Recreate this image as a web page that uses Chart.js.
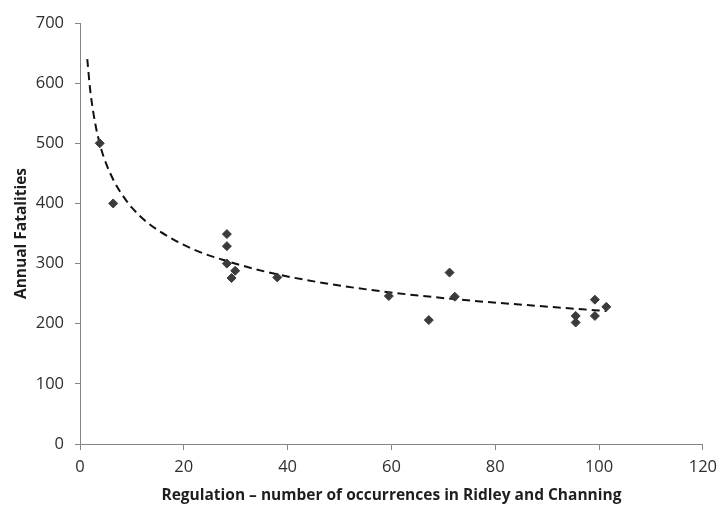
<!DOCTYPE html>
<html>
<head>
<meta charset="utf-8">
<script src="https://cdn.jsdelivr.net/npm/chart.js@4.4.1/dist/chart.umd.min.js"></script>
<style>
  html, body { margin: 0; padding: 0; background: #fff; }
  canvas { display: block; }
</style>
</head>
<body>
<canvas id="chart1" width="724" height="506"></canvas>
<script>
// scatter values
const regulation = [3.8, 6.4, 28.3, 28.3, 28.3, 29.9, 29.2, 38.0, 59.5, 67.2, 71.2, 72.2, 95.5, 95.5, 99.2, 99.2, 101.4];
const fatalities = [500, 400, 349, 329, 300, 288, 276, 277, 246, 206, 285, 245, 213, 202, 240, 213, 228];

// dashed trend line
const trendX = [1.4, 2, 3, 4, 5, 6.5, 8, 10, 13, 17, 22, 28, 36, 46, 58, 72, 86, 101.4];
const trendY = [640, 586, 530, 493, 467, 438, 416, 393, 368, 345, 323, 305, 286, 269, 254, 241, 231, 221];

// axis ticks
const xTicks = [0, 20, 40, 60, 80, 100, 120];
const yTicks = [0, 100, 200, 300, 400, 500, 600, 700];

const xTitle = "Regulation \u2013 number of occurrences in Ridley and Channing";
const yTitle = "Annual Fatalities";

const points = regulation.map((x, i) => ({ x: x, y: fatalities[i] }));
const trend = trendX.map((x, i) => ({ x: x, y: trendY[i] }));

const axisGrey = "#858585";
const tickFont = { family: "'Open Sans'", size: 16.5 };
const titleFont = { family: "'Open Sans'", size: 15.5, weight: "bold" };

let ctx1 = document.getElementById("chart1").getContext("2d");
let chart1 = new Chart(ctx1, {
    type: "scatter",
    data: {
        datasets: [
            {
                label: "Fatalities",
                data: points,
                pointStyle: "rectRot",
                pointRadius: 4.5,
                backgroundColor: "#3b3b3b",
                borderColor: "#3b3b3b",
                borderWidth: 1,
                order: 1,
            },
            {
                label: "Trend",
                data: trend,
                showLine: true,
                pointRadius: 0,
                borderColor: "#111",
                borderWidth: 2,
                borderDash: [8, 5],
                cubicInterpolationMode: "monotone",
                order: 2,
            },
        ],
    },
    options: {
        responsive: false,
        animation: false,
        devicePixelRatio: 1,
        layout: { padding: { left: 0, right: 14.5, top: 23, bottom: 0 } },
        plugins: {
            legend: { display: false },
            tooltip: { enabled: false },
        },
        scales: {
            x: {
                type: "linear",
                min: xTicks[0],
                max: xTicks[xTicks.length - 1],
                afterBuildTicks: (s) => { s.ticks = xTicks.map(v => ({ value: v })); },
                afterFit: (s) => { s.height = 62; },
                grid: { drawOnChartArea: false, drawTicks: true, tickLength: 6, color: axisGrey },
                border: { color: axisGrey, width: 1 },
                ticks: { color: "#2e2e2e", font: tickFont, padding: 7, maxRotation: 0 },
                title: { display: true, text: xTitle, color: "#1e1e1e", font: titleFont, padding: { top: 0, bottom: 1 } },
            },
            y: {
                type: "linear",
                min: yTicks[0],
                max: yTicks[yTicks.length - 1],
                afterBuildTicks: (s) => { s.ticks = yTicks.map(v => ({ value: v })); },
                afterFit: (s) => { s.width = 80; },
                grid: { drawOnChartArea: false, drawTicks: true, tickLength: 5, color: axisGrey },
                border: { color: axisGrey, width: 1 },
                ticks: { color: "#2e2e2e", font: tickFont, padding: 11 },
                title: { display: true, text: yTitle, color: "#1e1e1e", font: titleFont, padding: { top: 12, bottom: 0 } },
            },
        },
    },
});
</script>
</body>
</html>
